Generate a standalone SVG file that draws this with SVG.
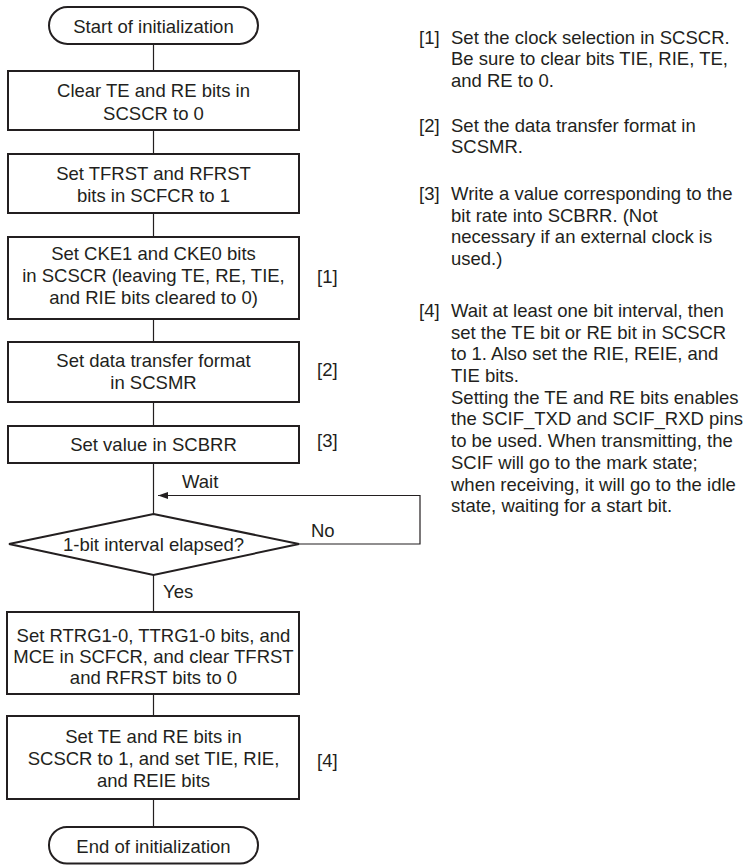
<svg xmlns="http://www.w3.org/2000/svg" width="747" height="865" viewBox="0 0 747 865">
<style>
.sh{fill:#fff;stroke:#231f20;stroke-width:2}
.ln{fill:none;stroke:#231f20;stroke-width:1.2}
text{font-family:"Liberation Sans",Arial,sans-serif;font-size:18.5px;fill:#231f20}
.c{text-anchor:middle}
</style>
<defs>
<marker id="ah" markerWidth="10" markerHeight="7" refX="10" refY="3.5" orient="auto" markerUnits="userSpaceOnUse">
<path d="M0,0 L10,3.5 L0,7 Z" fill="#231f20"/>
</marker>
</defs>
<g id="connectors">
<path class="ln" d="M153.5,44 V71 M153.5,130 V154 M153.5,213 V237 M153.5,319 V342 M153.5,402 V426 M153.5,463 V514 M153.5,575 V612 M153.5,694 V716 M153.5,799 V827"/>
<path class="ln" d="M299,544 H420 V495.5 H158" marker-end="url(#ah)"/>
<text x="182" y="488">Wait</text>
<text x="311" y="537">No</text>
<text x="163" y="598">Yes</text>
</g>
<g id="start"><rect class="sh" x="49" y="7" width="209" height="37" rx="18.5"/><text class="c" x="153.5" y="33">Start of initialization</text></g>
<g id="b1"><rect class="sh" x="8" y="71" width="291" height="59"/><text class="c" x="153.5" y="97">Clear TE and RE bits in</text><text class="c" x="153.5" y="120">SCSCR to 0</text></g>
<g id="b2"><rect class="sh" x="8" y="154" width="291" height="59"/><text class="c" x="153.5" y="180">Set TFRST and RFRST</text><text class="c" x="153.5" y="202">bits in SCFCR to 1</text></g>
<g id="b3"><rect class="sh" x="8" y="237" width="291" height="82"/><text class="c" x="153.5" y="260">Set CKE1 and CKE0 bits</text><text class="c" x="153.5" y="282">in SCSCR (leaving TE, RE, TIE,</text><text class="c" x="153.5" y="304">and RIE bits cleared to 0)</text></g>
<g id="b4"><rect class="sh" x="8" y="342" width="291" height="60"/><text class="c" x="153.5" y="367">Set data transfer format</text><text class="c" x="153.5" y="389">in SCSMR</text></g>
<g id="b5"><rect class="sh" x="8" y="426" width="291" height="37"/><text class="c" x="153.5" y="451">Set value in SCBRR</text></g>
<g id="d1"><polygon class="sh" points="153.5,514 299,544 153.5,575 9,544"/><text class="c" x="153.5" y="551">1-bit interval elapsed?</text></g>
<g id="b6"><rect class="sh" x="7" y="612" width="292" height="82"/><text class="c" x="153.5" y="642">Set RTRG1-0, TTRG1-0 bits, and</text><text class="c" x="153.5" y="663">MCE in SCFCR, and clear TFRST</text><text class="c" x="153.5" y="684">and RFRST bits to 0</text></g>
<g id="b7"><rect class="sh" x="7" y="716" width="292" height="83"/><text class="c" x="153.5" y="743">Set TE and RE bits in</text><text class="c" x="153.5" y="765">SCSCR to 1, and set TIE, RIE,</text><text class="c" x="153.5" y="787">and REIE bits</text></g>
<g id="end"><rect class="sh" x="49" y="827" width="209" height="36.5" rx="18"/><text class="c" x="153.5" y="853">End of initialization</text></g>
<g id="steplabels">
<text x="317" y="283">[1]</text>
<text x="317" y="376">[2]</text>
<text x="317" y="447">[3]</text>
<text x="317" y="767">[4]</text>
</g>
<g id="notes">
<text x="419" y="43.5">[1]</text>
<text x="451" y="43.5">Set the clock selection in SCSCR.</text>
<text x="451" y="65">Be sure to clear bits TIE, RIE, TE,</text>
<text x="451" y="87">and RE to 0.</text>
<text x="419" y="131.5">[2]</text>
<text x="451" y="131.5">Set the data transfer format in</text>
<text x="451" y="153">SCSMR.</text>
<text x="419" y="200">[3]</text>
<text x="451" y="200">Write a value corresponding to the</text>
<text x="451" y="221.7">bit rate into SCBRR. (Not</text>
<text x="451" y="243.4">necessary if an external clock is</text>
<text x="451" y="265">used.)</text>
<text x="419" y="317">[4]</text>
<text x="451" y="317">Wait at least one bit interval, then</text>
<text x="451" y="338.7">set the TE bit or RE bit in SCSCR</text>
<text x="451" y="360.4">to 1. Also set the RIE, REIE, and</text>
<text x="451" y="382">TIE bits.</text>
<text x="451" y="403.7">Setting the TE and RE bits enables</text>
<text x="451" y="425.4">the SCIF_TXD and SCIF_RXD pins</text>
<text x="451" y="447">to be used. When transmitting, the</text>
<text x="451" y="468.8">SCIF will go to the mark state;</text>
<text x="451" y="490.5">when receiving, it will go to the idle</text>
<text x="451" y="512">state, waiting for a start bit.</text>
</g>
</svg>
